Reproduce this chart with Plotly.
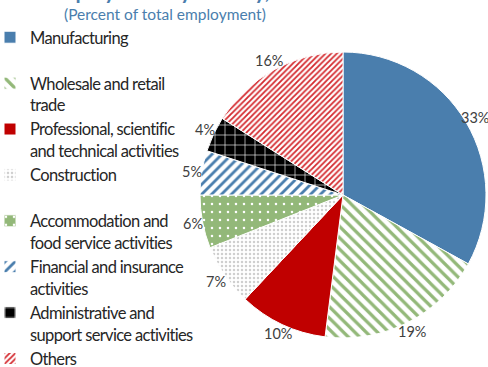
import math
import plotly.graph_objects as go

# Share of total employment by activity (percent)
categories = [
    "Manufacturing<br> ",
    "Wholesale and retail<br>trade",
    "Professional, scientific<br>and technical activities",
    "Construction<br> ",
    "Accommodation and<br>food service activities",
    "Financial and insurance<br>activities",
    "Administrative and<br>support service activities",
    "Others",
]
shares = [33, 19, 10, 7, 6, 5, 4, 16]

# Fill styles per slice
base_colors = ["#4A7EAD", "#FFFFFF", "#C00000", "#FFFFFF", "#93B879", "#FFFFFF", "#000000", "#FFFFFF"]
pattern_shapes = ["", "\\", "", ".", ".", "/", "+", "/"]
pattern_fg = ["#4A7EAD", "#93B879", "#C00000", "#CFCFCF", "#FFFFFF", "#4A7EAD", "#FFFFFF", "#D42A2F"]
pattern_bg = ["#4A7EAD", "#FFFFFF", "#C00000", "#FFFFFF", "#93B879", "#FFFFFF", "#000000", "#FFFFFF"]
pattern_size = [8, 8, 8, 4, 8, 7, 10, 4]
pattern_solidity = [0.3, 0.4, 0.3, 0.3, 0.08, 0.4, 0.12, 0.45]

FONT = "Lato"
W, H = 488, 367
cx, cy, r = 343, 195, 143   # pie centre and radius in pixels
label_r = r * 1.07          # radius of the percent labels


def tight(text):
    """Slightly condensed legend text, line by line."""
    return "<br>".join(
        f"<span style='letter-spacing:-0.65px'>{part}</span>" if part.strip() else part
        for part in text.split("<br>")
    )


fig = go.Figure(
    go.Pie(
        labels=[tight(c) for c in categories],
        values=shares,
        sort=False,
        direction="clockwise",
        rotation=0,
        textinfo="none",
        marker=dict(
            colors=base_colors,
            line=dict(color="#FFFFFF", width=1),
            pattern=dict(
                shape=pattern_shapes,
                fgcolor=pattern_fg,
                bgcolor=pattern_bg,
                size=pattern_size,
                solidity=pattern_solidity,
                fillmode="replace",
            ),
        ),
        domain=dict(
            x=[(cx - r) / W, (cx + r) / W],
            y=[(H - cy - r) / H, (H - cy + r) / H],
        ),
        hoverinfo="label+percent",
    )
)

# Percent labels just outside each slice, at the slice's mid angle
total = sum(shares)
annotations = []
cum = 0
for v in shares:
    mid = (cum + v / 2) / total * 2 * math.pi   # clockwise from 12 o'clock
    cum += v
    px = cx + label_r * math.sin(mid)
    py = cy - label_r * math.cos(mid)
    annotations.append(dict(
        text=f"{v}%", x=px / W, y=1 - py / H, xref="paper", yref="paper",
        xanchor="center", yanchor="middle", showarrow=False,
        font=dict(family=FONT, size=14.5, color="#404040"),
    ))

annotations += [
    dict(
        text="<b>Employment by activity,</b>",
        x=44 / W, y=1.0 - 5 / H, xref="paper", yref="paper",
        xanchor="left", yanchor="bottom", showarrow=False,
        font=dict(family=FONT, size=21, color="#4A7EAD"),
    ),
    dict(
        text="(Percent of total employment)",
        x=62 / W, y=1.0 - 3 / H, xref="paper", yref="paper",
        xanchor="left", yanchor="top", showarrow=False,
        font=dict(family=FONT, size=15.5, color="#4A7EAD"),
    ),
]

fig.update_layout(
    width=W,
    height=H,
    margin=dict(l=0, r=0, t=0, b=0, autoexpand=False),
    paper_bgcolor="white",
    plot_bgcolor="white",
    showlegend=True,
    legend=dict(
        x=-10 / W,
        y=1 - 20 / H,
        xanchor="left",
        yanchor="top",
        valign="top",
        font=dict(family=FONT, size=16.5, color="#262626"),
        itemwidth=30,
        bgcolor="rgba(0,0,0,0)",
    ),
    annotations=annotations,
)

fig.write_html("out.html")
